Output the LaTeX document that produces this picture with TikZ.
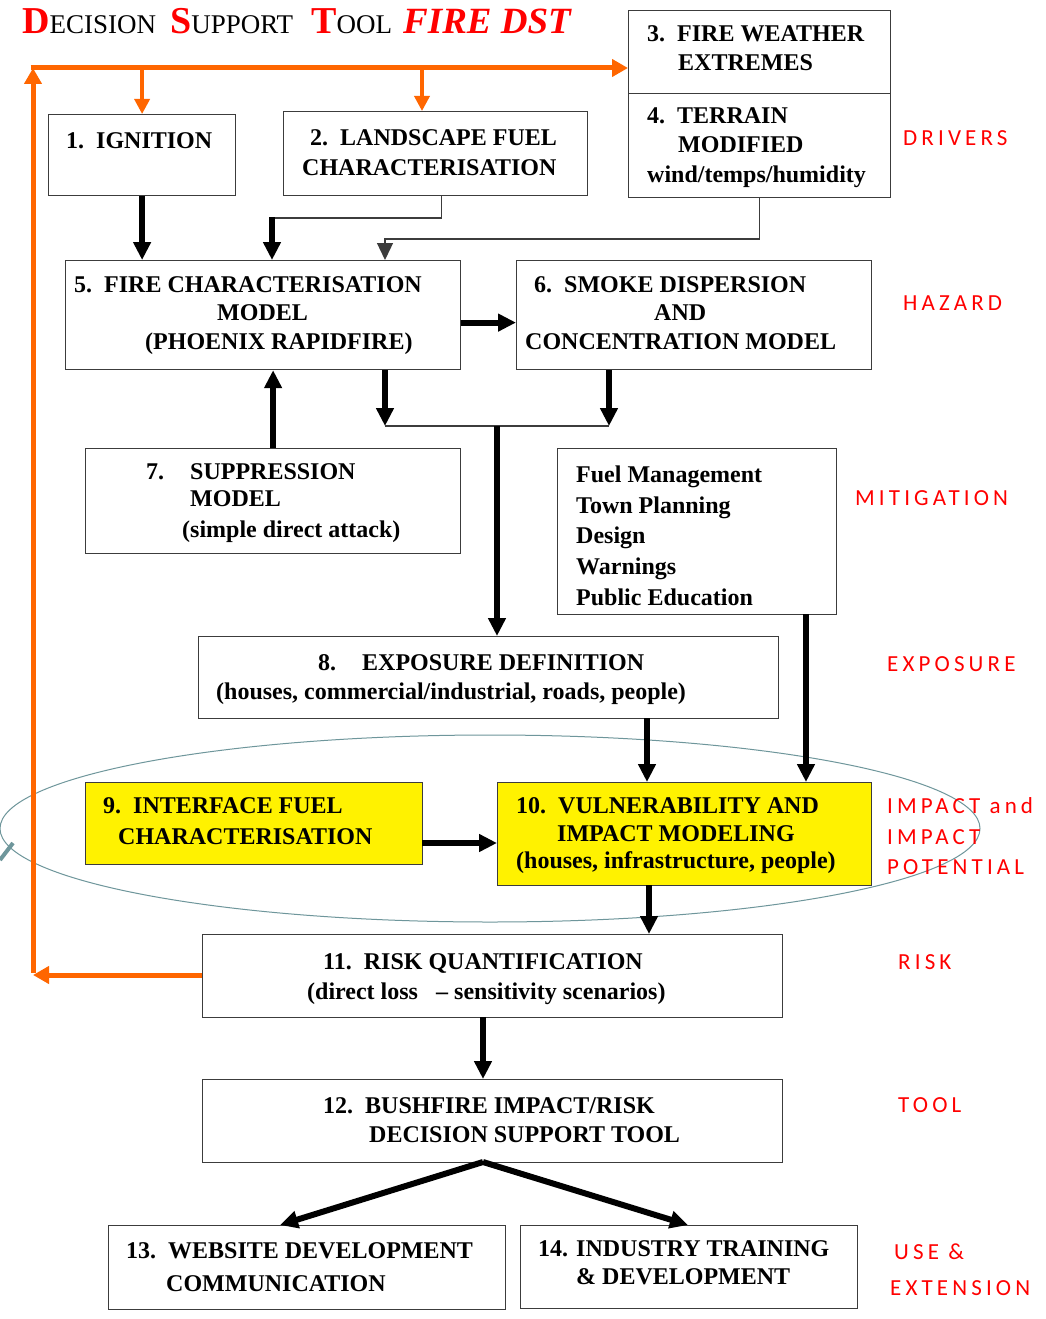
\documentclass[tikz,border=0pt]{standalone}
\usepackage{fontspec}
\setmainfont{Liberation Serif}
\newfontfamily\lblfont[LetterSpace=18]{Carlito}
\usetikzlibrary{arrows.meta}
\definecolor{orangeA}{RGB}{255,102,0}
\definecolor{boxgray}{RGB}{60,60,60}
\definecolor{ellgray}{RGB}{110,150,155}
\begin{document}
\begin{tikzpicture}[x=1pt,y=-1pt,
  box/.style={draw=boxgray, line width=1.2pt, anchor=north west, inner sep=0pt, fill=white},
  ybox/.style={box, fill=yellow},
  txt/.style={anchor=base west, inner sep=0pt, font=\fontsize{24}{29}\selectfont\bfseries},
  lbl/.style={anchor=base west, inner sep=0pt, text=red, font=\lblfont\fontsize{23}{23}\selectfont},
  blk/.style={line width=6pt, -{Triangle[length=18pt,width=17pt]}},
  thinln/.style={draw=boxgray, line width=1.3pt},
  org/.style={draw=orangeA, line width=5pt, -{Triangle[length=16pt,width=17pt]}},
  orgs/.style={draw=orangeA, line width=3.5pt, -{Triangle[length=15pt,width=15pt]}}
]
\useasboundingbox (0,0) rectangle (1045,1319);
\fill[white] (0,0) rectangle (1045,1319);

% ellipse (impact group)
\draw[ellgray, line width=1pt] (490,828.5) ellipse [x radius=490, y radius=93.5];
\draw[ellgray, line width=4pt] (13,843) -- (0,860);

% boxes
\node[box, minimum width=187pt, minimum height=81pt] (b1) at (48,114) {};
\node[box, minimum width=304pt, minimum height=84pt] (b2) at (283,111) {};
\node[box, minimum width=262pt, minimum height=83pt] (b3) at (628,10) {};
\node[box, minimum width=262pt, minimum height=104pt] (b4) at (628,93) {};
\node[box, minimum width=395pt, minimum height=109pt] (b5) at (65,260) {};
\node[box, minimum width=355pt, minimum height=109pt] (b6) at (516,260) {};
\node[box, minimum width=375pt, minimum height=105pt] (b7) at (85,448) {};
\node[box, minimum width=279pt, minimum height=166pt] (bm) at (557,448) {};
\node[box, minimum width=580pt, minimum height=82pt] (b8) at (198,636) {};
\node[ybox, minimum width=337pt, minimum height=82pt] (b9) at (85,782) {};
\node[ybox, minimum width=374pt, minimum height=103pt] (b10) at (497,782) {};
\node[box, minimum width=580pt, minimum height=83pt] (b11) at (202,934) {};
\node[box, minimum width=580pt, minimum height=83pt] (b12) at (202,1079) {};
\node[box, minimum width=397pt, minimum height=84pt] (b13) at (108,1225) {};
\node[box, minimum width=337pt, minimum height=83pt] (b14) at (520,1225) {};

% title
\node[anchor=base west, inner sep=0pt] (t1) at (22,34) {{\color{red}\fontsize{38}{38}\selectfont\bfseries D}{\fontsize{27}{27}\selectfont ECISION}};
\node[anchor=base west, inner sep=0pt] (t2) at (170,34) {{\color{red}\fontsize{38}{38}\selectfont\bfseries S}{\fontsize{27}{27}\selectfont UPPORT}};
\node[anchor=base west, inner sep=0pt] (t3) at (311,34) {{\color{red}\fontsize{38}{38}\selectfont\bfseries T}{\fontsize{27}{27}\selectfont OOL}};
\node[anchor=base west, inner sep=0pt, text=red, font=\fontsize{37}{37}\selectfont\bfseries\itshape] (t4) at (403,34) {FIRE DST};

% box texts
\node[txt] (l1a) at (66,148) {1.\ \ IGNITION};
\node[txt] (l2a) at (310,146) {2.\ \ LANDSCAPE FUEL};
\node[txt] (l2b) at (302,175) {CHARACTERISATION};
\node[txt] (l3a) at (647,42) {3.\ \ FIRE WEATHER};
\node[txt] (l3b) at (678,71) {EXTREMES};
\node[txt] (l4a) at (647,124) {4.\ \ TERRAIN};
\node[txt] (l4b) at (678,153) {MODIFIED};
\node[txt] (l4c) at (647,182) {wind/temps/humidity};
\node[txt] (l5a) at (74,292) {5.\ \ FIRE CHARACTERISATION};
\node[txt] (l5b) at (217,320) {MODEL};
\node[txt] (l5c) at (145,349) {(PHOENIX RAPIDFIRE)};
\node[txt] (l6a) at (534,292) {6.\ \ SMOKE DISPERSION};
\node[txt] (l6b) at (654,320) {AND};
\node[txt] (l6c) at (525,349) {CONCENTRATION MODEL};
\node[txt] (l7a) at (146,479) {7.};
\node[txt] (l7b) at (190,479) {SUPPRESSION};
\node[txt] (l7c) at (190,506) {MODEL};
\node[txt] (l7d) at (182,537) {(simple direct attack)};
\node[txt] (lma) at (576,482) {Fuel Management};
\node[txt] (lmb) at (576,513) {Town Planning};
\node[txt] (lmc) at (576,543) {Design};
\node[txt] (lmd) at (576,574) {Warnings};
\node[txt] (lme) at (576,605) {Public Education};
\node[txt] (l8a) at (318,670) {8.};
\node[txt] (l8b) at (362,670) {EXPOSURE DEFINITION};
\node[txt] (l8c) at (216,699) {(houses, commercial/industrial, roads, people)};
\node[txt] (l9a) at (103,813) {9.\ \ INTERFACE FUEL};
\node[txt] (l9b) at (118,844) {CHARACTERISATION};
\node[txt] (l10a) at (516,813) {10.\ \ VULNERABILITY AND};
\node[txt] (l10b) at (557,841) {IMPACT MODELING};
\node[txt] (l10c) at (516,868) {(houses, infrastructure, people)};
\node[txt] (l11a) at (323,969) {11.\ \ RISK QUANTIFICATION};
\node[txt] (l11b) at (307,999) {(direct loss};
\node[txt] (l11c) at (436,999) {-- sensitivity scenarios)};
\node[txt] (l12a) at (323,1113) {12.\ \ BUSHFIRE IMPACT/RISK};
\node[txt] (l12b) at (369,1142) {DECISION SUPPORT TOOL};
\node[txt] (l13a) at (126,1258) {13.\ \ WEBSITE DEVELOPMENT};
\node[txt] (l13b) at (166,1291) {COMMUNICATION};
\node[txt] (l14a) at (538,1256) {14. INDUSTRY TRAINING};
\node[txt] (l14b) at (576,1284) {\& DEVELOPMENT};

% right-hand labels
\node[lbl] (rd) at (903,146) {DRIVERS};
\node[lbl] (rh) at (903,310) {HAZARD};
\node[lbl] (rm) at (855,505) {MITIGATION};
\node[lbl] (re) at (887,671) {EXPOSURE};
\node[lbl] (ri1) at (887,813) {IMPACT and};
\node[lbl] (ri2) at (887,844) {IMPACT};
\node[lbl] (ri3) at (887,874) {POTENTIAL};
\node[lbl] (rr) at (898,969) {RISK};
\node[lbl] (rt) at (898,1112) {TOOL};
\node[lbl] (ru1) at (894,1259) {USE \&};
\node[lbl] (ru2) at (890,1295) {EXTENSION};

% orange feedback loop
\coordinate (obot) at (33,975);
\coordinate (otop) at (33,68);
\coordinate (b2n) at (422,111);
\draw[org] (b11.west |- obot) -- (obot);
\draw[org] ([yshift=2.5pt]obot) -- (otop);
\draw[org] ([xshift=-2.5pt]otop) -- (otop -| b3.west);
\draw[orgs] (otop -| b1.north) -- (b1.north);
\draw[orgs] (otop -| b2n) -- (b2n);

% black connectors
\coordinate (c2) at (272,218);
\coordinate (c4) at (385,239);
\draw[blk] (b1.south) -- (b1.south |- b5.north);
\draw[thinln] ([xshift=6pt]b2.south) |- (c2);
\draw[blk] ([yshift=0.65pt]c2) -- (c2 |- b5.north);
\draw[thinln, -{Triangle[length=17pt,width=16pt]}] (b4.south) |- (c4) -- (c4 |- b5.north);
\draw[blk] ([yshift=-7.5pt]b5.east) -- ([yshift=-7.5pt]b5.east -| b6.west);
\draw[blk] (b7.north) -- (b7.north |- b5.south);
\coordinate (m5) at (385,426);
\coordinate (m6) at (609,426);
\coordinate (mj) at (497,426);
\draw[blk] (b5.south -| m5) -- (m5);
\draw[blk] (b6.south -| m6) -- (m6);
\draw[thinln] (m5) -- (m6);
\draw[blk] (mj) -- (mj |- b8.north);
\coordinate (a8) at (647,718);
\coordinate (am) at (806,614);
\draw[blk] (a8) -- (a8 |- b10.north);
\draw[blk] (am) -- (am |- b10.north);
\coordinate (a9) at (422,843);
\draw[blk] (a9) -- (a9 -| b10.west);
\coordinate (a10) at (649,885);
\draw[blk] (a10) -- (a10 |- b11.north);
\coordinate (a11) at (483,1017);
\draw[blk] (a11) -- (a11 |- b12.north);
\coordinate (a12) at (483,1162);
\coordinate (a13) at (280,1225);
\coordinate (a14) at (688,1225);
\draw[blk] (a12) -- (a13);
\draw[blk] (a12) -- (a14);
\end{tikzpicture}
\end{document}
